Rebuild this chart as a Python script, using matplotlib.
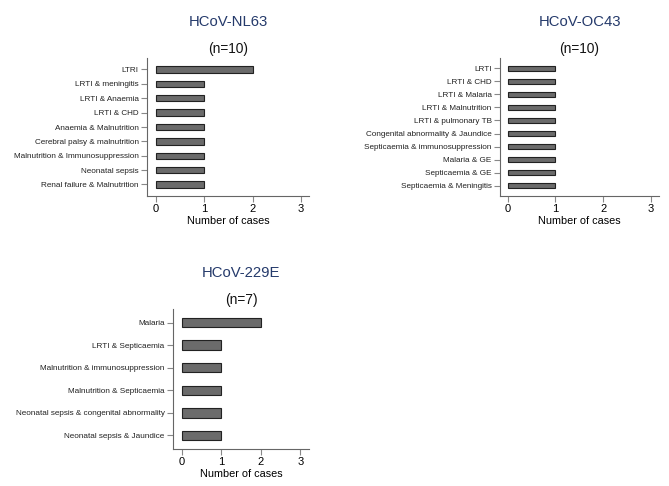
import matplotlib.pyplot as plt

plt.rcParams['font.family'] = ['Liberation Sans', 'DejaVu Sans']

# data
nl63_labels = ["LTRI", "LRTI & meningitis", "LRTI & Anaemia", "LRTI & CHD",
               "Anaemia & Malnutrition", "Cerebral palsy & malnutrition",
               "Malnutrition & Immunosuppression", "Neonatal sepsis",
               "Renal failure & Malnutrition"]
nl63_counts = [2, 1, 1, 1, 1, 1, 1, 1, 1]

oc43_labels = ["LRTI", "LRTI & CHD", "LRTI & Malaria", "LRTI & Malnutrition",
               "LRTI & pulmonary TB", "Congenital abnormality & Jaundice",
               "Septicaemia & immunosuppression", "Malaria & GE",
               "Septicaemia & GE", "Septicaemia & Meningitis"]
oc43_counts = [1, 1, 1, 1, 1, 1, 1, 1, 1, 1]

e229_labels = ["Malaria", "LRTI & Septicaemia", "Malnutrition & immunosuppression",
               "Malnutrition & Septicaemia", "Neonatal sepsis & congenital abnormality",
               "Neonatal sepsis & Jaundice"]
e229_counts = [2, 1, 1, 1, 1, 1]

panels = [
    ("HCoV-NL63", "(n=10)", nl63_labels, nl63_counts,
     [147, 58, 309, 196], (-0.186, 3.166), 0.44),
    ("HCoV-OC43", "(n=10)", oc43_labels, oc43_counts,
     [500, 58, 659, 196], (-0.161, 3.167), 0.44),
    ("HCoV-229E", "(n=7)", e229_labels, e229_counts,
     [173, 309, 309, 449], (-0.22, 3.22), 0.42),
]

W, H = 669, 486
fig = plt.figure(figsize=(W / 100, H / 100), dpi=100)

for title, ntext, labels, counts, box, xlim, bh in panels:
    x0, y0, x1, y1 = box
    ax = fig.add_axes([x0 / W, 1 - y1 / H, (x1 - x0) / W, (y1 - y0) / H])
    pos = list(range(len(labels)))
    ax.barh(pos, counts, height=bh, color='#6b6b6b', edgecolor='#222222', linewidth=0.8)
    n = len(labels)
    pad = 0.8 if n > 6 else 0.6
    ax.set_ylim(n - 1 + pad, -pad)
    ax.set_xlim(*xlim)
    ax.set_yticks(pos)
    ax.set_yticklabels(labels, fontsize=5.9, color='#222222')
    ax.set_xticks([0, 1, 2, 3])
    ax.tick_params(axis='x', labelsize=8, length=4, width=0.8, color='#888888', pad=2)
    ax.tick_params(axis='y', length=4, width=0.8, color='#888888', pad=2)
    for s in ['top', 'right']:
        ax.spines[s].set_visible(False)
    for s in ['left', 'bottom']:
        ax.spines[s].set_color('#666666')
        ax.spines[s].set_linewidth(0.8)
    ax.set_xlabel("Number of cases", fontsize=7.8, labelpad=1)
    h = y1 - y0
    ax.text(0.5, 1 + 36 / h, title, transform=ax.transAxes,
            ha='center', va='center', fontsize=10.7, color='#253a6b')
    ax.text(0.5, 1 + 9 / h, ntext, transform=ax.transAxes,
            ha='center', va='center', fontsize=9.9, color='#111111')

fig.savefig('out.png', dpi=100)
